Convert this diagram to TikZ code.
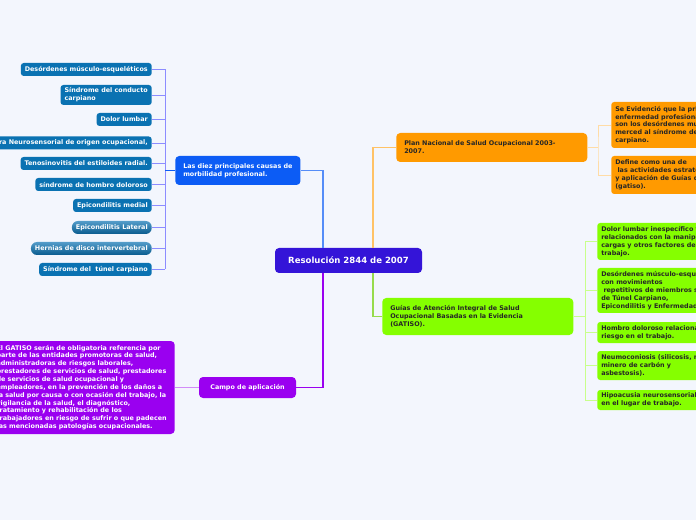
\documentclass[tikz,border=0pt]{standalone}
\usepackage{fontspec}
\setmainfont{DejaVu Sans}
\usetikzlibrary{positioning}
\definecolor{canvas}{HTML}{F3F6FD}
\definecolor{resblue}{HTML}{3414D8}
\definecolor{causeblue}{HTML}{0C5CF5}
\definecolor{leafteal}{HTML}{0A72B2}
\definecolor{planorange}{HTML}{FF9A00}
\definecolor{guiagreen}{HTML}{85FF00}
\definecolor{campopurple}{HTML}{9A00F0}

\tikzset{
  boxbase/.style={font=\fontsize{4.8}{5.9}\selectfont\bfseries, inner xsep=3pt, inner ysep=1.5pt, rounded corners=2.2pt, align=left},
  leaf/.style={boxbase, fill=leafteal, text=white, anchor=east, minimum height=9.75pt},
  leafpill/.style={leaf, fill=none, top color=leafteal!70!white, bottom color=leafteal!80!black, rounded corners=4.5pt},
  topic/.style={boxbase, inner xsep=6pt, rounded corners=3pt},
  sideleaf/.style={boxbase, anchor=west},
  thinline/.style={line width=0.7pt},
}

\begin{document}
\begin{tikzpicture}[x=0.75pt, y=-0.75pt]
  \fill[canvas] (0,0) rectangle (696,520);
  \useasboundingbox (0,0) rectangle (696,520);
  \clip (0,0) rectangle (696,520);

  % centre
  \node[boxbase, fill=resblue, text=white, font=\fontsize{6.4}{7.5}\selectfont\bfseries, minimum width=110.25pt, minimum height=18.75pt, align=center, rounded corners=3pt] (res) at (348.5,260.5) {Resolución 2844 de 2007};
  \coordinate (tL) at (323,248);
  \coordinate (tR) at (373,248);
  \coordinate (bL) at (323,273);
  \coordinate (bR) at (373,273);

  % left upper branch
  \node[topic, fill=causeblue, text=white, anchor=west, minimum height=21.75pt] (causas) at (175,170.5) {Las diez principales causas de\\morbilidad profesional.};
  \node[leaf] (c1) at (152,69.5) {Desórdenes músculo-esqueléticos};
  \node[leaf, minimum height=15pt] (c2) at (152,95) {Síndrome del conducto\\carpiano};
  \node[leaf] (c3) at (152,119.5) {Dolor lumbar};
  \node[leaf] (c4) at (152,143) {Sordera Neurosensorial de origen ocupacional,};
  \node[leaf] (c5) at (152,163.5) {Tenosinovitis del estiloides radial.};
  \node[leaf] (c6) at (152,184.5) {síndrome de hombro doloroso};
  \node[leaf] (c7) at (152,205.5) {Epicondilitis medial};
  \node[leafpill] (c8) at (152,227.5) {Epicondilitis Lateral};
  \node[leafpill] (c9) at (152,248.5) {Hernias de disco intervertebral};
  \node[leaf] (c10) at (152,269.5) {Síndrome del\ \ túnel carpiano};
  \coordinate (busC) at (165,170.5);

  \draw[thinline, blue!45!white] (c1.east -| busC) -- (c10.east -| busC);
  \foreach \i in {1,...,10}
    \draw[thinline, blue!45!white] (c\i.east) -- (c\i.east -| busC);
  \draw[line width=1pt, causeblue] (busC) -- (causas.west);
  \draw[line width=1pt, causeblue!70!white] (tL) |- (causas.east);

  % left lower branch
  \node[topic, fill=campopurple, text=white, anchor=center, minimum width=72.75pt, minimum height=15.75pt, align=center] (campo) at (247.5,387.5) {Campo de aplicación};
  \node[boxbase, fill=campopurple, text=white, anchor=east, inner xsep=6pt, minimum height=69.75pt, rounded corners=3pt] (gatisodesc) at (175,387.5) {El GATISO serán de obligatoria referencia por\\parte de las entidades promotoras de salud,\\administradoras de riesgos laborales,\\prestadores de servicios de salud, prestadores\\de servicios de salud ocupacional y\\empleadores, en la prevención de los daños a\\la salud por causa o con ocasión del trabajo, la\\vigilancia de la salud, el diagnóstico,\\tratamiento y rehabilitación de los\\trabajadores en riesgo de sufrir o que padecen\\las mencionadas patologías ocupacionales.};
  \draw[line width=1pt, campopurple] (bL) |- (campo.east);
  \draw[thinline, campopurple!45!white] (campo.west) -- (gatisodesc.east);

  % right upper branch
  \node[topic, fill=planorange, text=black!85, anchor=west, text width=131.25pt, minimum height=21.75pt] (plan) at (396,147.5) {Plan Nacional de Salud Ocupacional 2003-\\2007.};
  \node[sideleaf, fill=planorange, text=black!85, minimum height=34.5pt] (plan1) at (611,125) {Se Evidenció que la primera\\enfermedad profesional\\son los desórdenes musculo\\merced al síndrome del túnel\\carpiano.};
  \node[sideleaf, fill=planorange, text=black!85, minimum height=28.5pt] (plan2) at (611,175) {Define como una de\\\ las actividades estratégicas\\y aplicación de Guías de\\(gatiso).};
  \coordinate (busP) at (598,147.5);
  \draw[line width=1pt, planorange!60!white] (tR) |- (plan.west);
  \draw[thinline, planorange!35!white] (plan.east) -- (busP);
  \draw[thinline, planorange!35!white] (plan1.west) -| (busP) |- (plan2.west);

  % right lower branch
  \node[topic, fill=guiagreen, text=black!85, anchor=west, text width=131.25pt, minimum height=27.75pt] (guias) at (382,316.5) {Guías de Atención Integral de Salud\\Ocupacional Basadas en la Evidencia\\(GATISO).};
  \node[sideleaf, fill=guiagreen, text=black!85, minimum height=27.75pt] (g1) at (597,241.5) {Dolor lumbar inespecífico y\\relacionados con la manipulación de\\cargas y otros factores de riesgo en el\\trabajo.};
  \node[sideleaf, fill=guiagreen, text=black!85, minimum height=33.75pt] (g2) at (597,290.5) {Desórdenes músculo-esqueléticos\\con movimientos\\\ repetitivos de miembros superiores\\de Túnel Carpiano,\\Epicondilitis y Enfermedad de Quervain};
  \node[sideleaf, fill=guiagreen, text=black!85, minimum height=15.75pt] (g3) at (597,332.5) {Hombro doloroso relacionado con\\riesgo en el trabajo.};
  \node[sideleaf, fill=guiagreen, text=black!85, minimum height=21.75pt] (g4) at (597,365.5) {Neumoconiosis (silicosis, neumoconiosis del\\minero de carbón y\\asbestosis).};
  \node[sideleaf, fill=guiagreen, text=black!85, minimum height=15pt] (g5) at (597,400) {Hipoacusia neurosensorial inducida por ruido\\en el lugar de trabajo.};
  \coordinate (busG) at (585,316.5);
  \draw[line width=1pt, guiagreen!80!black!70!white] (bR) |- (guias.west);
  \draw[thinline, guiagreen!45!white] (guias.east) -- (busG);
  \foreach \i in {1,...,5}
    \draw[thinline, guiagreen!45!white] (g\i.west) -| (busG);
\end{tikzpicture}
\end{document}
